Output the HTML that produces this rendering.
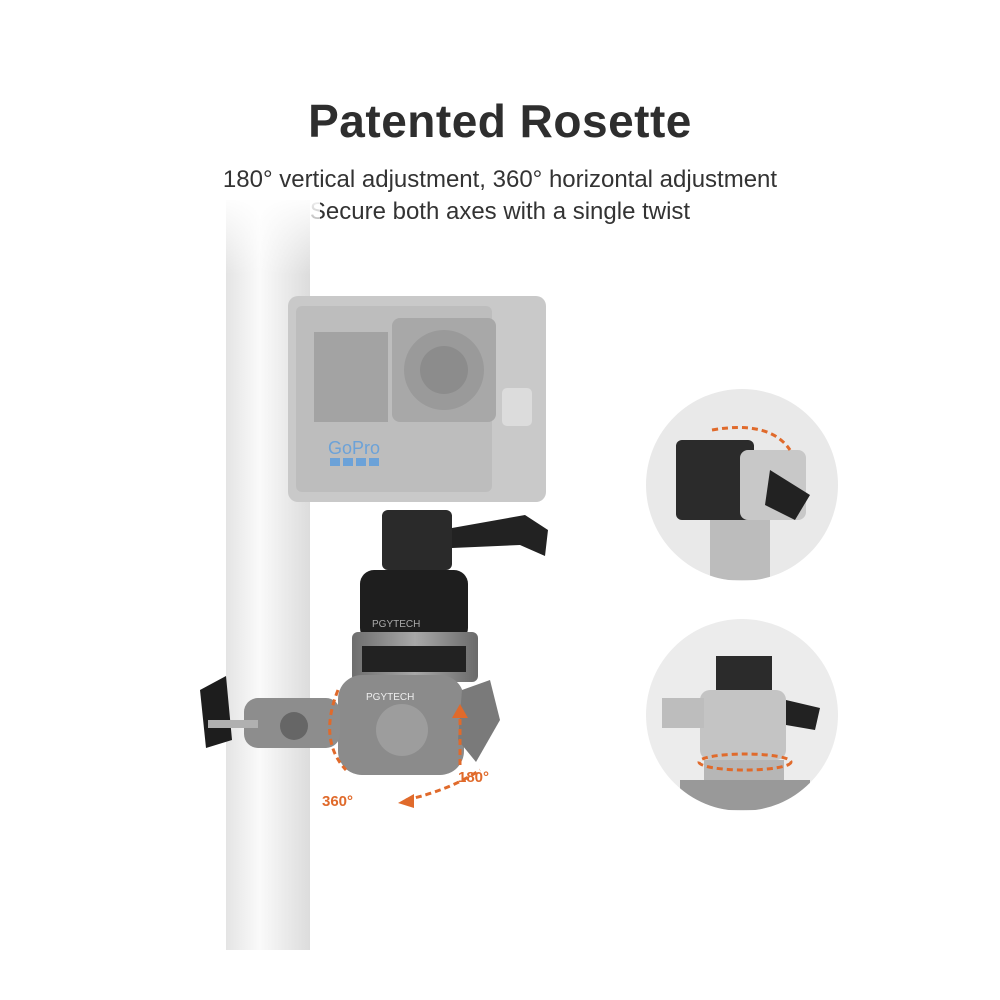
<!DOCTYPE html>
<html><head><meta charset="utf-8"><style>
html,body{margin:0;padding:0;background:#fff;}
body{width:1000px;height:1000px;position:relative;overflow:hidden;font-family:"Liberation Sans",sans-serif;}
.t{position:absolute;left:0;width:1000px;text-align:center;color:#333;}
</style></head><body>
<div class="t" style="top:94px;font-size:46px;font-weight:bold;letter-spacing:0.5px;color:#2e2e2e;">Patented Rosette</div>
<div class="t" style="top:166px;font-size:24px;">180° vertical adjustment, 360° horizontal adjustment</div>
<div class="t" style="top:198px;font-size:24px;">Secure both axes with a single twist</div>
<svg width="1000" height="1000" style="position:absolute;left:0;top:0">
<defs>
<linearGradient id="pole" x1="0" x2="1"><stop offset="0" stop-color="#e4e4e4"/><stop offset="0.4" stop-color="#fafafa"/><stop offset="1" stop-color="#dcdcdc"/></linearGradient>
<linearGradient id="fade" x1="0" y1="0" x2="0" y2="1"><stop offset="0" stop-color="#fff" stop-opacity="1"/><stop offset="1" stop-color="#fff" stop-opacity="0"/></linearGradient>
<linearGradient id="metal" x1="0" x2="1"><stop offset="0" stop-color="#6e6e6e"/><stop offset="0.5" stop-color="#a8a8a8"/><stop offset="1" stop-color="#6a6a6a"/></linearGradient>
</defs>
<rect x="226" y="200" width="84" height="750" fill="url(#pole)"/>
<rect x="220" y="195" width="100" height="80" fill="url(#fade)"/>
<!-- camera -->
<rect x="288" y="296" width="258" height="206" rx="10" fill="#c9c9c9"/>
<rect x="296" y="306" width="196" height="186" rx="6" fill="#bdbdbd"/>
<rect x="314" y="332" width="74" height="90" fill="#a3a3a3"/>
<rect x="392" y="318" width="104" height="104" rx="8" fill="#a8a8a8"/>
<circle cx="444" cy="370" r="40" fill="#9a9a9a"/><circle cx="444" cy="370" r="24" fill="#8c8c8c"/>
<rect x="502" y="388" width="30" height="38" rx="5" fill="#dcdcdc"/>
<text x="328" y="454" font-size="18" fill="#6ca2d8" font-family="Liberation Sans">GoPro</text>
<rect x="330" y="458" width="10" height="8" fill="#6ca2d8"/><rect x="343" y="458" width="10" height="8" fill="#6ca2d8"/><rect x="356" y="458" width="10" height="8" fill="#6ca2d8"/><rect x="369" y="458" width="10" height="8" fill="#6ca2d8"/>
<!-- mount -->
<rect x="382" y="510" width="70" height="60" rx="6" fill="#2a2a2a"/>
<path d="M452 528 L525 515 L548 530 L545 556 L520 545 L452 548Z" fill="#222"/>
<rect x="360" y="570" width="108" height="72" rx="14" fill="#1e1e1e"/>
<text x="372" y="627" font-size="10" fill="#aaa">PGYTECH</text>
<rect x="352" y="632" width="126" height="50" rx="6" fill="url(#metal)"/>
<rect x="362" y="646" width="104" height="26" fill="#222"/>
<rect x="338" y="675" width="126" height="100" rx="24" fill="#8b8b8b"/>
<circle cx="402" cy="730" r="26" fill="#9d9d9d"/>
<text x="366" y="700" font-size="10" fill="#eee">PGYTECH</text>
<path d="M462 690 L490 680 L500 720 L476 762 L458 740Z" fill="#7a7a7a"/>
<rect x="244" y="698" width="96" height="50" rx="14" fill="#8d8d8d"/>
<circle cx="294" cy="726" r="14" fill="#666"/>
<path d="M200 690 L226 676 L232 740 L206 748Z" fill="#1d1d1d"/>
<rect x="208" y="720" width="50" height="8" fill="#b0b0b0"/>
<!-- arrows -->
<path d="M338 690 Q318 740 346 770" stroke="#e06a2b" stroke-width="3" fill="none" stroke-dasharray="6 4"/>
<path d="M406 800 Q450 790 480 770" stroke="#e06a2b" stroke-width="3" fill="none" stroke-dasharray="6 4"/>
<polygon points="398,803 414,794 414,808" fill="#e06a2b"/>
<path d="M460 765 L460 715" stroke="#e06a2b" stroke-width="3" stroke-dasharray="6 4"/>
<polygon points="452,718 468,718 460,704" fill="#e06a2b"/>
<text x="322" y="806" font-size="15" font-weight="bold" fill="#e06a2b">360°</text>
<text x="458" y="782" font-size="15" font-weight="bold" fill="#e06a2b">180°</text>
<!-- circle 1 -->
<circle cx="742" cy="485" r="96" fill="#e9e9e9"/>
<clipPath id="c1"><circle cx="742" cy="485" r="96"/></clipPath>
<g clip-path="url(#c1)">
<rect x="676" y="440" width="78" height="80" rx="6" fill="#2b2b2b"/>
<rect x="740" y="450" width="66" height="70" rx="8" fill="#c8c8c8"/>
<path d="M770 470 L810 495 L795 520 L765 505Z" fill="#222"/>
<rect x="710" y="520" width="60" height="60" fill="#bcbcbc"/>
<path d="M712 430 Q770 420 790 450" stroke="#e06a2b" stroke-width="3" fill="none" stroke-dasharray="6 4"/>
</g>
<!-- circle 2 -->
<circle cx="742" cy="715" r="96" fill="#ececec"/>
<clipPath id="c2"><circle cx="742" cy="715" r="96"/></clipPath>
<g clip-path="url(#c2)">
<rect x="716" y="656" width="56" height="34" fill="#2b2b2b"/>
<rect x="700" y="690" width="86" height="70" rx="10" fill="#c4c4c4"/>
<rect x="662" y="698" width="42" height="30" fill="#bdbdbd"/>
<path d="M786 700 L820 708 L815 730 L786 725Z" fill="#222"/>
<rect x="704" y="760" width="80" height="30" fill="#b6b6b6"/>
<rect x="680" y="780" width="130" height="30" fill="#999"/>
<ellipse cx="745" cy="762" rx="46" ry="8" stroke="#e06a2b" stroke-width="3" fill="none" stroke-dasharray="6 4"/>
</g>
</svg>
</body></html>
